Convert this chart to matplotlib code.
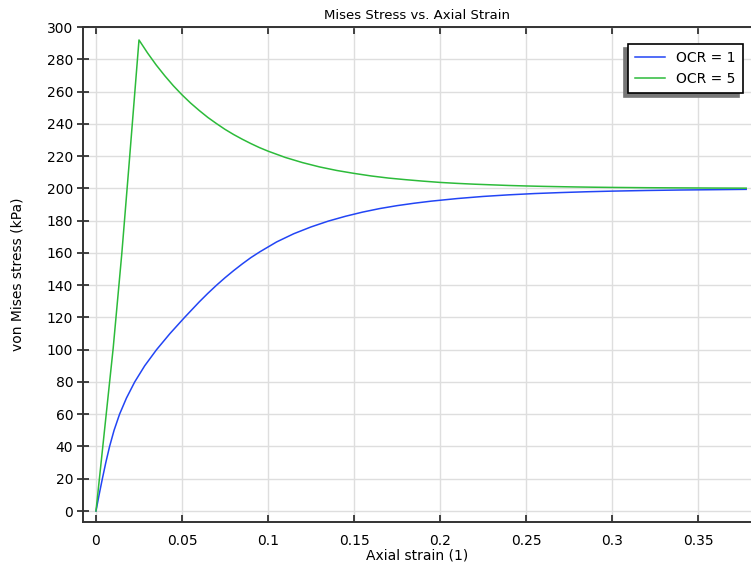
import matplotlib
matplotlib.use("Agg")
from matplotlib import pyplot as plt

# axial strain / von Mises stress
strain_ocr1 = [0, 0.0018, 0.0037, 0.0057, 0.0079, 0.0105, 0.0137, 0.0177, 0.0225, 0.0283,
               0.0352, 0.043, 0.0515, 0.06, 0.065, 0.07, 0.075, 0.08, 0.085, 0.09,
               0.0953, 0.105, 0.115, 0.125, 0.135, 0.145, 0.155, 0.165, 0.175, 0.185,
               0.195, 0.21, 0.225, 0.24, 0.255, 0.27, 0.285, 0.3, 0.32, 0.34,
               0.36, 0.378]
stress_ocr1 = [0, 10, 20, 30, 40, 50, 60, 70, 80, 90,
               100, 110, 120, 129.6, 134.9, 139.9, 144.6, 149, 153.15, 157.05,
               160.7, 166.8, 171.9, 176.1, 179.7, 182.7, 185.3, 187.5, 189.3, 190.8,
               192.1, 193.7, 195, 196, 196.8, 197.4, 197.9, 198.3, 198.7, 199.0,
               199.2, 199.4]

strain_ocr5 = [0, 0.005, 0.01, 0.015, 0.0192, 0.025, 0.03, 0.035, 0.04,
               0.045, 0.05, 0.055, 0.06, 0.065, 0.07, 0.075, 0.08, 0.085, 0.09,
               0.095, 0.1, 0.11, 0.12, 0.13, 0.14, 0.15, 0.16, 0.17, 0.18,
               0.19, 0.2, 0.21, 0.22, 0.23, 0.24, 0.25, 0.26, 0.27, 0.28,
               0.29, 0.3, 0.32, 0.34, 0.36, 0.378]
stress_ocr5 = [0, 50.5, 101, 159.5, 214.5, 292, 283.9, 276.5, 269.8,
               263.6, 258, 252.9, 248.3, 244, 240.2, 236.6, 233.4, 230.5, 227.8,
               225.3, 223.1, 219.2, 216, 213.3, 211.1, 209.3, 207.7, 206.4, 205.4,
               204.5, 203.7, 203.1, 202.6, 202.2, 201.8, 201.5, 201.25, 201.05, 200.87,
               200.72, 200.6, 200.42, 200.3, 200.2, 200.14]

x_ticks = [0, 0.05, 0.1, 0.15, 0.2, 0.25, 0.3, 0.35]
x_tick_labels = ["0", "0.05", "0.1", "0.15", "0.2", "0.25", "0.3", "0.35"]
y_ticks = list(range(0, 301, 20))


def main():
    fig = plt.figure(figsize=(7.51, 5.64), dpi=100)
    ax = fig.add_axes([0.1105, 0.0745, 0.8895, 0.8775])

    ax.plot(strain_ocr1, stress_ocr1, color="#2245f5", lw=1.1, label="OCR = 1")
    ax.plot(strain_ocr5, stress_ocr5, color="#2cbb3a", lw=1.1, label="OCR = 5")

    ax.set_xlim(-0.00756, 0.3808)
    ax.set_ylim(-6.8, 300)
    ax.set_xticks(x_ticks)
    ax.set_xticklabels(x_tick_labels)
    ax.set_yticks(y_ticks)

    ax.grid(True, color="#dedede", lw=1)
    ax.set_axisbelow(True)

    for side in ["left", "bottom", "top"]:
        ax.spines[side].set_color("#333333")
        ax.spines[side].set_linewidth(1.4)
    ax.spines["right"].set_visible(False)

    ax.tick_params(axis="x", direction="in", length=5, width=1.3, color="#333333",
                   top=True, labelsize=10, pad=9)
    ax.tick_params(axis="y", direction="inout", length=8, width=1.3, color="#333333",
                   labelsize=10, pad=3)

    ax.set_title("Mises Stress vs. Axial Strain", fontsize=9.5, pad=6)
    ax.set_xlabel("Axial strain (1)", fontsize=10, labelpad=0)
    ax.set_ylabel("von Mises stress (kPa)", fontsize=10, labelpad=16)

    leg = ax.legend(loc="upper right", bbox_to_anchor=(0.998, 0.98), fontsize=10,
                    fancybox=False, edgecolor="black", framealpha=1,
                    handlelength=2.2, borderpad=0.5,
                    shadow={"ox": -2.5, "oy": -3, "color": "#777777", "alpha": 1})
    leg.get_frame().set_linewidth(1.2)

    fig.savefig("out.png", dpi=100)


if __name__ == "__main__":
    main()
